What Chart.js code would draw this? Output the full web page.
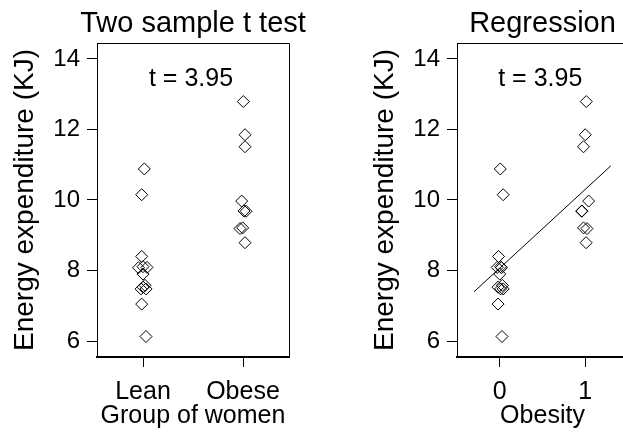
<!DOCTYPE html>
<html>
<head>
<meta charset="utf-8">
<script src="https://cdn.jsdelivr.net/npm/chart.js@4.4.1/dist/chart.umd.min.js"></script>
<style>
  html, body { margin: 0; padding: 0; background: #fff; overflow: hidden; }
  body { width: 623px; height: 432px; position: relative; }
  canvas { position: absolute; top: 0; }
  #tTest { left: 0; }
  #regress { left: 360px; }
</style>
</head>
<body>
<canvas id="tTest" width="311" height="432"></canvas>
<canvas id="regress" width="290" height="432"></canvas>
<script>
// energy expenditure of lean and obese women (KJ)
const leanEnergy = [6.13, 7.05, 7.48, 7.48, 7.53, 7.58, 7.90, 8.08, 8.09, 8.11, 8.40, 10.15, 10.88];
const obeseEnergy = [8.79, 9.19, 9.21, 9.68, 9.69, 9.97, 11.51, 11.85, 12.79];

// x positions of the points (with the small jitter seen in the picture)
const leanXGroup = [1.03, 0.987, 0.98, 1.03, 1.0, 1.02, 1.0, 0.955, 1.04, 1.0, 0.987, 0.987, 1.013];
const obeseXGroup = [2.02, 1.97, 1.997, 2.03, 2.01, 1.987, 2.02, 2.02, 2.003];
const leanXObesity = [0.026, -0.02, 0.01, 0.04, -0.02, 0.03, 0.0, 0.02, -0.03, 0.01, -0.014, 0.04, 0.006];
const obeseXObesity = [1.01, 1.02, 0.98, 0.96, 0.96, 1.04, 0.98, 1.0, 1.012];

// fitted regression line, end points
const fitX = [-0.3, 1.3];
const fitY = [7.40, 10.97];

const groupTicks = [1, 2];
const groupLabels = ['Lean', 'Obese'];
const obesityTicks = [0, 1];
const energyTicks = [6, 8, 10, 12, 14];
const tLabel = 't = 3.95';

const FONT = "'Liberation Sans', Arial, sans-serif";

function toPoints(xs, ys) {
    return ys.map((y, i) => ({ x: xs[i], y: y }));
}

// top and right sides of the box, panel title and the t label
const boxPlugin = {
    id: 'boxAndLabel',
    afterDraw(chart, args, opts) {
        const { ctx, chartArea } = chart;
        ctx.save();
        ctx.strokeStyle = '#000';
        ctx.lineWidth = 1;
        ctx.beginPath();
        ctx.moveTo(chartArea.left, chartArea.top + 0.5);
        ctx.lineTo(chartArea.right + 0.5, chartArea.top + 0.5);
        ctx.lineTo(chartArea.right + 0.5, chartArea.bottom);
        ctx.stroke();

        ctx.fillStyle = '#000';
        ctx.textAlign = 'center';

        ctx.font = '29px ' + FONT;
        ctx.textBaseline = 'alphabetic';
        ctx.fillText(opts.title, (chartArea.left + chartArea.right) / 2, 32);

        const px = chart.scales.x.getPixelForValue(opts.at[0]);
        const py = chart.scales.y.getPixelForValue(opts.at[1]);
        ctx.font = '25px ' + FONT;
        ctx.textBaseline = 'middle';
        ctx.fillText(opts.text, px, py);
        ctx.restore();
    }
};

function makePanel(id, cfg) {
    const pointSet = {
        type: 'scatter',
        data: cfg.points,
        pointStyle: 'rectRot',
        pointRadius: 6,
        pointBorderWidth: 1,
        borderColor: '#000',
        backgroundColor: 'rgba(0,0,0,0)',
        order: 1,
    };
    const datasets = [pointSet].concat(cfg.extra || []);

    return new Chart(document.getElementById(id), {
        type: 'scatter',
        data: { datasets },
        plugins: [boxPlugin],
        options: {
            responsive: false,
            animation: false,
            events: [],
            layout: { padding: { left: 0, right: 22, top: 43, bottom: 0 } },
            plugins: {
                legend: { display: false },
                tooltip: { enabled: false },
                title: { display: false },
                boxAndLabel: { text: tLabel, title: cfg.title, at: cfg.tAt },
            },
            scales: {
                x: {
                    type: 'linear',
                    min: cfg.xMin,
                    max: cfg.xMax,
                    afterBuildTicks: s => { s.ticks = cfg.xTicks.map(v => ({ value: v })); },
                    afterFit: s => { s.height = 75; },
                    grid: { drawOnChartArea: false, drawTicks: true, tickLength: 10, tickColor: '#000', tickWidth: 1 },
                    border: { display: true, color: '#000', width: 2 },
                    ticks: {
                        color: '#000',
                        padding: 13,
                        maxRotation: 0,
                        autoSkip: false,
                        font: { family: FONT, size: 25, lineHeight: 1 },
                        callback: cfg.xLabel,
                    },
                    title: {
                        display: true,
                        text: cfg.xTitle,
                        color: '#000',
                        font: { family: FONT, size: 25, lineHeight: 1 },
                        padding: { top: 0, bottom: 3 },
                    },
                },
                y: {
                    type: 'linear',
                    min: 5.55,
                    max: 14.45,
                    afterBuildTicks: s => { s.ticks = energyTicks.map(v => ({ value: v })); },
                    afterFit: s => { s.width = 97; },
                    grid: { drawOnChartArea: false, drawTicks: true, tickLength: 10, tickColor: '#000', tickWidth: 1 },
                    border: { display: true, color: '#000', width: 1 },
                    ticks: {
                        color: '#000',
                        padding: 7,
                        font: { family: FONT, size: 24, lineHeight: 1 },
                    },
                    title: {
                        display: true,
                        text: 'Energy expenditure (KJ)',
                        color: '#000',
                        font: { family: FONT, size: 28, lineHeight: 1 },
                        padding: { top: 11, bottom: 0 },
                    },
                },
            },
        },
    });
}

makePanel('tTest', {
    title: 'Two sample t test',
    points: toPoints(leanXGroup, leanEnergy).concat(toPoints(obeseXGroup, obeseEnergy)),
    xMin: 0.54,
    xMax: 2.46,
    xTicks: groupTicks,
    xLabel: v => groupLabels[groupTicks.indexOf(v)],
    xTitle: 'Group of women',
    tAt: [1.48, 13.43],
});

makePanel('regress', {
    title: 'Regression',
    points: toPoints(leanXObesity, leanEnergy).concat(toPoints(obeseXObesity, obeseEnergy)),
    extra: [{
        type: 'line',
        data: toPoints(fitX, fitY),
        borderColor: '#000',
        borderWidth: 1,
        pointRadius: 0,
        fill: false,
        order: 0,
    }],
    xMin: -0.5,
    xMax: 1.5,
    xTicks: obesityTicks,
    xLabel: v => String(v),
    xTitle: 'Obesity',
    tAt: [0.474, 13.43],
});
</script>
</body>
</html>
